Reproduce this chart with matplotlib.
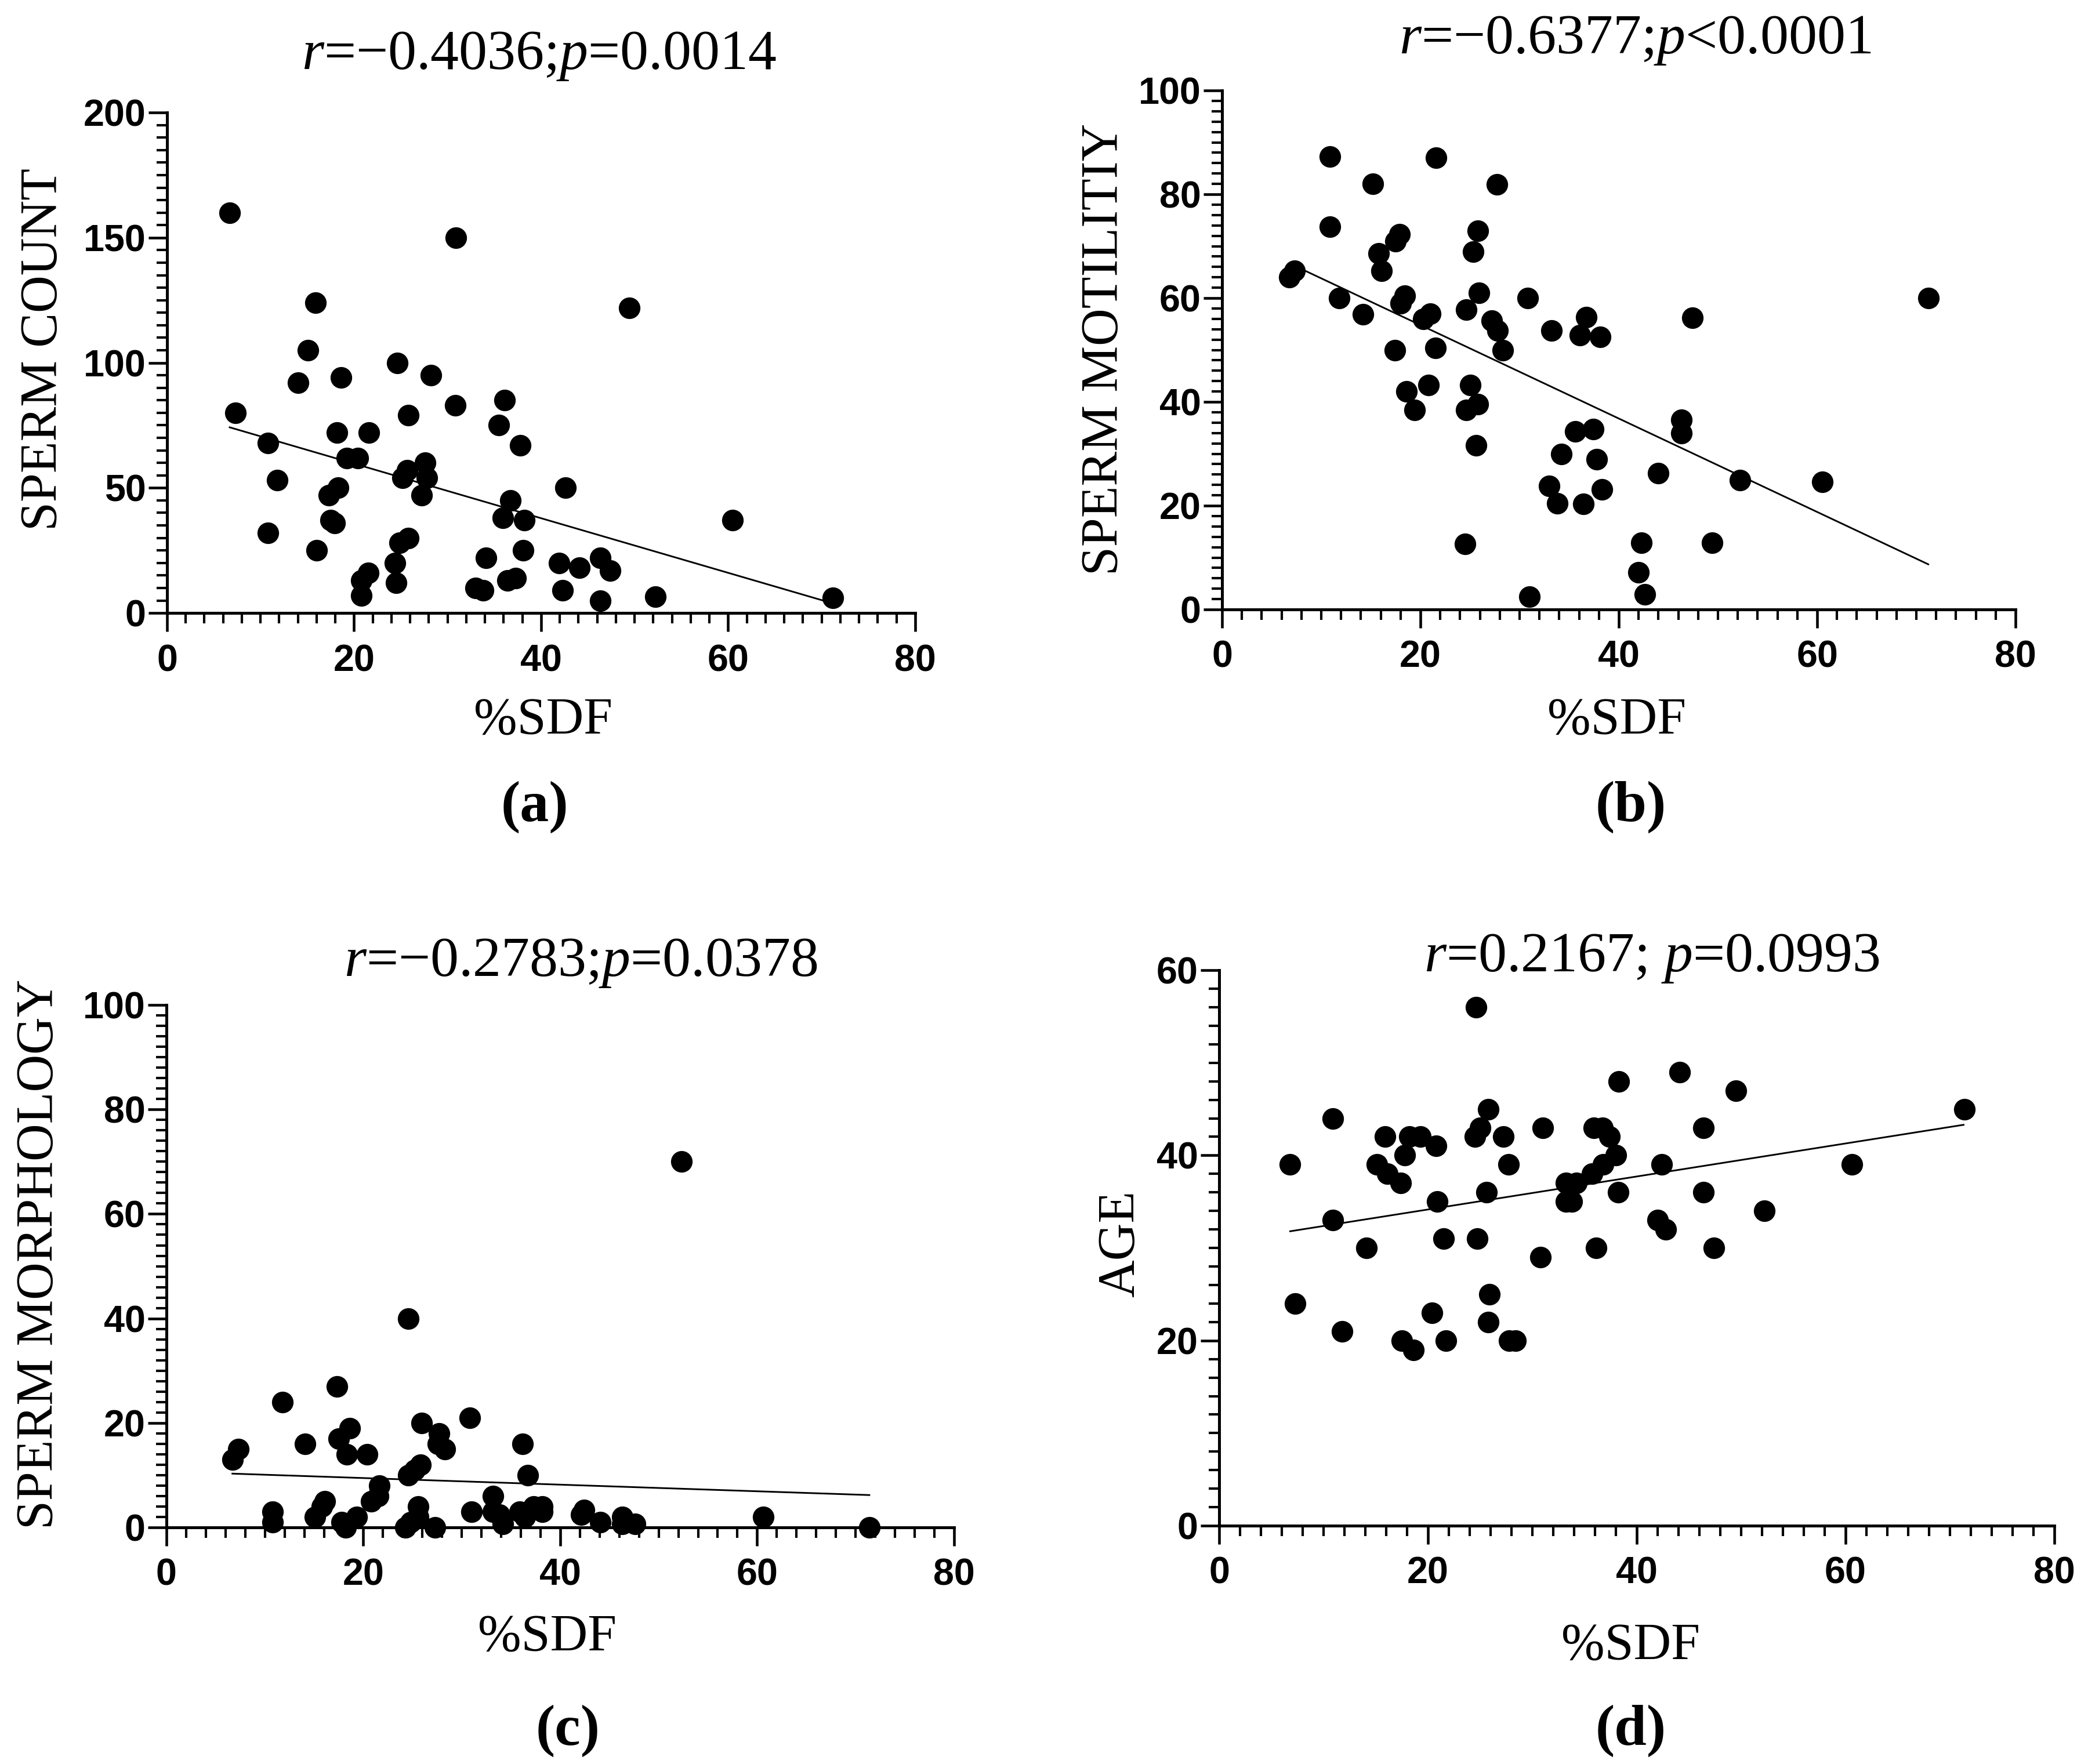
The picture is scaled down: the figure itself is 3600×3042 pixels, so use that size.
import numpy as np
import matplotlib.pyplot as plt
from matplotlib.ticker import MultipleLocator

plt.rcParams['mathtext.fontset'] = 'custom'
plt.rcParams['mathtext.rm'] = 'Liberation Serif'
plt.rcParams['mathtext.it'] = 'Liberation Serif:italic'

# (a) sperm count vs %SDF
a_x = [6.7, 30.9, 15.9, 49.4, 15.1, 24.6, 14.0, 18.6, 28.2, 7.3, 30.8, 25.8, 36.1, 35.5, 18.2,
       21.6, 10.8, 37.8, 19.2, 20.4, 27.6, 25.7, 25.2, 27.8, 11.8, 18.3, 17.3, 27.2, 42.6, 36.7,
       35.9, 38.2, 17.5, 17.9, 60.5, 10.8, 25.8, 24.9, 16.0, 38.1, 34.1, 46.3, 41.9, 44.1, 47.4,
       24.4, 21.5, 20.8, 37.3, 36.4, 24.5, 33.0, 33.8, 42.3, 20.8, 52.2, 46.3, 71.2]
a_y = [160, 150, 124, 122, 105, 100, 92, 94, 95, 80, 83, 79, 85, 75, 72,
       72, 68, 67, 62, 62, 60, 57, 54, 54, 53, 50, 47, 47, 50, 45,
       38, 37, 37, 36, 37, 32, 30, 28, 25, 25, 22, 22, 20, 18, 17,
       20, 16, 13, 14, 13, 12, 10, 9, 9, 7, 6.5, 5, 6]
a_fit_x = [6.7, 70.5]
a_fit_y = [74.2, 4.6]

# (b) sperm motility vs %SDF
b_x = [10.9, 21.6, 15.2, 27.7, 10.9, 25.8, 17.9, 17.5, 25.3, 15.8, 16.1, 7.3, 6.8, 11.8, 18.4,
       18.0, 25.9, 30.8, 71.2, 14.2, 24.6, 21.0, 20.3, 27.2, 27.8, 36.7, 47.4, 33.2, 36.1, 38.1,
       17.4, 21.5, 28.3, 20.8, 25.0, 18.6, 25.8, 24.6, 19.4, 46.3, 46.3, 35.6, 37.4, 25.6, 34.2,
       37.8, 44.0, 52.2, 60.5, 33.0, 38.3, 33.8, 36.4, 24.5, 42.3, 49.4, 42.0, 31.0, 42.6]
b_y = [87.3, 87, 82, 81.9, 73.7, 73, 72.3, 71, 68.9, 68.6, 65.2, 65.2, 64, 60, 60.5,
       59, 61, 60, 60, 56.9, 57.8, 57, 56, 55.7, 53.8, 56.3, 56.2, 53.8, 52.9, 52.5,
       49.9, 50.4, 49.9, 43.2, 43.2, 42, 39.6, 38.4, 38.4, 36.5, 34, 34.3, 34.7, 31.6, 29.9,
       28.9, 26.3, 24.9, 24.6, 23.8, 23.1, 20.5, 20.3, 12.6, 12.9, 12.9, 7.1, 2.5, 2.9]
b_fit_x = [7.0, 71.2]
b_fit_y = [66.5, 8.7]

# (c) sperm morphology vs %SDF
c_x = [52.3, 24.6, 17.3, 11.8, 30.8, 25.9, 18.6, 17.5, 27.7, 27.6, 28.3, 36.2, 14.1, 7.3, 6.7,
       18.3, 20.4, 25.8, 25.2, 24.6, 36.7, 21.6, 21.5, 20.8, 16.1, 15.8, 15.1, 10.8, 10.8, 19.3,
       17.8, 18.2, 25.6, 25.6, 24.8, 24.3, 27.3, 31.0, 33.2, 33.2, 33.8, 34.2, 35.9, 36.4, 37.3,
       38.2, 38.2, 42.1, 42.4, 44.1, 46.3, 46.3, 47.6, 60.6, 71.4]
c_y = [70, 40, 27, 24, 21, 20, 19, 17, 18, 16, 15, 16, 16, 15, 13,
       14, 14, 12, 11, 10, 10, 8, 6, 5, 5, 4, 2, 3, 1, 2,
       1, 0, 4, 2, 1, 0, 0, 3, 6, 3, 2.5, 0.7, 3, 2, 4,
       4, 3, 2.5, 3.3, 1, 2, 0.7, 0.7, 2, 0]
c_fit_x = [6.7, 71.4]
c_fit_y = [10.3, 6.2]

# (d) age vs %SDF
d_x = [24.6, 44.1, 38.3, 49.5, 71.4, 25.8, 10.9, 25.0, 24.5, 31.0, 35.9, 36.7, 46.4, 15.9, 18.2,
       19.3, 27.2, 37.4, 20.8, 17.8, 38.0, 6.8, 15.1, 27.7, 36.8, 42.4, 60.6, 16.1, 35.7, 17.4,
       33.2, 34.2, 25.6, 38.2, 46.4, 20.9, 33.2, 33.8, 52.2, 10.9, 42.0, 42.8, 14.1, 36.1, 47.4,
       21.5, 24.7, 30.8, 7.3, 25.9, 20.4, 25.8, 11.8, 17.5, 21.7, 27.8, 28.4, 18.6]
d_y = [56, 49, 48, 47, 45, 45, 44, 43, 42, 43, 43, 43, 43, 42, 42,
       42, 42, 42, 41, 40, 40, 39, 39, 39, 39, 39, 39, 38, 38, 37,
       37, 37, 36, 36, 36, 35, 35, 35, 34, 33, 33, 32, 30, 30, 30,
       31, 31, 29, 24, 25, 23, 22, 21, 20, 20, 20, 20, 19]
d_fit_x = [6.8, 71.3]
d_fit_y = [31.8, 43.3]

titles = [r'$r$=−0.4036;$p$=0.0014', r'$r$=−0.6377;$p$<0.0001',
          r'$r$=−0.2783;$p$=0.0378', r'$r$=0.2167; $p$=0.0993']
ylabels = ['SPERM COUNT', 'SPERM MOTILITIY', 'SPERM MORPHOLOGY', 'AGE']
letters = ['(a)', '(b)', '(c)', '(d)']
ymax = [200, 100, 100, 60]
ymajor = [50, 20, 20, 20]
yminor = [5, 2, 2, 2]

xs = [a_x, b_x, c_x, d_x]
ys = [a_y, b_y, c_y, d_y]
fit_xs = [a_fit_x, b_fit_x, c_fit_x, d_fit_x]
fit_ys = [a_fit_y, b_fit_y, c_fit_y, d_fit_y]

# layout in figure fractions
rects = [[0.080, 0.6525, 0.3583, 0.2837],
         [0.5853, 0.6545, 0.3800, 0.2942],
         [0.0797, 0.1341, 0.3772, 0.2962],
         [0.5839, 0.1351, 0.4000, 0.3149]]
title_pos = [(0.258, 0.968), (0.783, 0.977), (0.278, 0.454), (0.791, 0.4566)]
xlab_pos = [(0.260, 0.5911), (0.7744, 0.5911), (0.262, 0.0713), (0.781, 0.0664)]
ylab_pos = [(0.021, 0.8018), (0.529, 0.802), (0.019, 0.289), (0.537, 0.295)]
letter_pos = [(0.256, 0.5424), (0.781, 0.5424), (0.272, 0.0187), (0.781, 0.0187)]

serif = 'Liberation Serif'
fig = plt.figure(figsize=(12, 10.14), dpi=300)

for i in range(4):
    ax = fig.add_axes(rects[i])
    ax.scatter(xs[i], ys[i], s=80, color='black', zorder=3, clip_on=False, linewidths=0)
    ax.plot(fit_xs[i], fit_ys[i], color='black', lw=0.7, zorder=2)
    ax.set_xlim(0, 80)
    ax.set_ylim(0, ymax[i])
    ax.xaxis.set_major_locator(MultipleLocator(20))
    ax.xaxis.set_minor_locator(MultipleLocator(2))
    ax.yaxis.set_major_locator(MultipleLocator(ymajor[i]))
    ax.yaxis.set_minor_locator(MultipleLocator(yminor[i]))
    ax.spines['top'].set_visible(False)
    ax.spines['right'].set_visible(False)
    for s in ['left', 'bottom']:
        ax.spines[s].set_linewidth(1.2)
    ax.tick_params(which='major', length=7.7, width=1.1, direction='out')
    ax.tick_params(which='minor', length=4.3, width=1.0, direction='out')
    ax.tick_params(axis='y', which='major', pad=1)
    ax.tick_params(axis='x', which='major', pad=5)
    for lab in ax.get_xticklabels() + ax.get_yticklabels():
        lab.set_fontfamily('Liberation Sans')
        lab.set_fontweight('bold')
        lab.set_fontsize(15.5)

    fig.text(title_pos[i][0], title_pos[i][1], titles[i], family=serif, fontsize=23.5,
             ha='center', va='center')
    fig.text(xlab_pos[i][0], xlab_pos[i][1], '%SDF', family=serif, fontsize=21.5,
             ha='center', va='center')
    fig.text(ylab_pos[i][0], ylab_pos[i][1], ylabels[i], family=serif, fontsize=21.5,
             ha='center', va='center', rotation=90)
    fig.text(letter_pos[i][0], letter_pos[i][1], letters[i], family=serif, fontsize=24,
             fontweight='bold', ha='center', va='center')

fig.savefig('out.png', dpi=300)
